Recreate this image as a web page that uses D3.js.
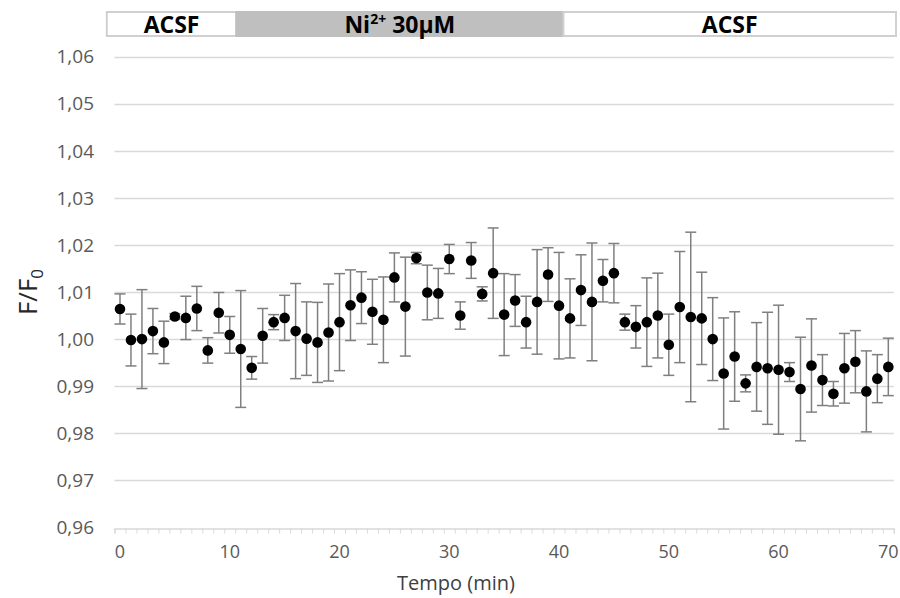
<!DOCTYPE html>
<html><head><meta charset="utf-8">
<script src="https://cdn.jsdelivr.net/npm/d3@7"></script>
<style>body{margin:0;background:#fff}svg{display:block}</style>
</head><body><div id="chart"></div>
<script>
// ---- data ----
const minutes = d3.range(0, 71);
const means = [1.0064,0.9998,1.0000,1.0017,0.9993,1.0048,1.0045,1.0065,0.9976,1.0056,
  1.0009,0.9979,0.9939,1.0007,1.0036,1.0045,1.0017,1.0001,0.9993,1.0014,
  1.0036,1.0072,1.0088,1.0058,1.0041,1.0131,1.0069,1.0172,1.0099,1.0097,
  1.0170,1.0050,1.0167,1.0096,1.0140,1.0052,1.0082,1.0036,1.0079,1.0137,
  1.0071,1.0044,1.0104,1.0079,1.0124,1.0140,1.0036,1.0026,1.0036,1.0050,
  0.9988,1.0068,1.0047,1.0044,1.0000,0.9927,0.9963,0.9906,0.9941,0.9938,
  0.9935,0.9930,0.9894,0.9944,0.9913,0.9884,0.9938,0.9952,0.9889,0.9916,0.9941];
const errors = [0.0032,0.0055,0.0105,0.0048,0.0045,0.0006,0.0046,0.0047,0.0027,0.0043,
  0.0039,0.0124,0.0024,0.0058,0.0016,0.0048,0.0101,0.0078,0.0085,0.0103,
  0.0103,0.0075,0.0055,0.0069,0.0091,0.0052,0.0105,0.0012,0.0058,0.0053,
  0.0031,0.0029,0.0038,0.0015,0.0096,0.0087,0.0055,0.0055,0.0111,0.0057,
  0.0113,0.0084,0.0075,0.0125,0.0045,0.0063,0.0017,0.0045,0.0094,0.0090,
  0.0065,0.0118,0.0180,0.0098,0.0088,0.0118,0.0095,0.0018,0.0094,0.0119,
  0.0137,0.0020,0.0110,0.0099,0.0054,0.0026,0.0074,0.0066,0.0086,0.0051,0.0061];
const xTickValues = [0,10,20,30,40,50,60,70];
const yTickValues = [0.96,0.97,0.98,0.99,1.00,1.01,1.02,1.03,1.04,1.05,1.06];
const yTickLabels = ["0,96","0,97","0,98","0,99","1,00","1,01","1,02","1,03","1,04","1,05","1,06"];
const phaseNames = ["ACSF","Ni","ACSF"];
const phaseStart = [-1.2, 10.6, 40.4];
const phaseEnd = [10.6, 40.4, 70.7];

// ---- layout ----
const W = 900, H = 598;
const svg = d3.select("#chart").append("svg").attr("width", W).attr("height", H);
const x = d3.scaleLinear().domain([-0.5, 70.5]).range([114.5, 893.8]);
const y = d3.scaleLinear().domain([0.96, 1.06]).range([527.5, 56.5]);
const font = "'Open Sans', sans-serif";

// gridlines
svg.append("g").selectAll("line").data(yTickValues.slice(1)).join("line")
  .attr("x1", x(-0.5)).attr("x2", x(70.5))
  .attr("y1", d => Math.round(y(d)) + 0.5).attr("y2", d => Math.round(y(d)) + 0.5)
  .attr("stroke", "#d9d9d9").attr("stroke-width", 1.3);

// y labels
svg.append("g").selectAll("text").data(yTickValues).join("text")
  .attr("x", 94).attr("y", d => y(d)).attr("dy", "0.36em")
  .attr("text-anchor", "end").attr("font-family", font).attr("font-size", 19)
  .attr("fill", "#595959").text((d, i) => yTickLabels[i]);

// x axis
const xAxis = d3.axisBottom(x).tickValues(d3.range(-0.5, 71, 1)).tickSize(5).tickFormat("");
const gx = svg.append("g").attr("transform", `translate(0,${Math.round(y(0.96)) + 0.5})`).call(xAxis);
gx.select(".domain").attr("stroke", "#d9d9d9").attr("stroke-width", 1.3);
gx.selectAll(".tick line").attr("stroke", "#d9d9d9").attr("stroke-width", 1);
svg.append("g").selectAll("text").data(xTickValues).join("text")
  .attr("x", d => x(d)).attr("y", 558).attr("text-anchor", "middle")
  .attr("font-family", font).attr("font-size", 18).attr("fill", "#595959").text(d => d);

// axis titles
svg.append("text").attr("x", 456).attr("y", 590).attr("text-anchor", "middle")
  .attr("font-family", font).attr("font-size", 20).attr("fill", "#404040").text("Tempo (min)");
const yt = svg.append("text").attr("transform", "translate(37,292) rotate(-90)")
  .attr("text-anchor", "middle").attr("font-family", font).attr("font-size", 26).attr("fill", "#262626");
yt.append("tspan").text("F/F");
yt.append("tspan").attr("font-size", 17).attr("dy", 6).text("0");

// phase bar
const bar = svg.append("g");
phaseNames.forEach((p, i) => {
  const x0 = x(phaseStart[i]), x1 = x(phaseEnd[i]);
  bar.append("rect").attr("x", x0).attr("y", 12).attr("width", x1 - x0).attr("height", 24)
    .attr("fill", p === "Ni" ? "#bfbfbf" : "#fff")
    .attr("stroke", p === "Ni" ? "#bfbfbf" : "#d0d0d0").attr("stroke-width", 2);
  const t = bar.append("text").attr("x", (x0 + x1) / 2).attr("y", 32.5).attr("text-anchor", "middle")
    .attr("font-family", font).attr("font-weight", "bold")
    .attr("font-size", 23).attr("fill", "#000");
  if (p === "Ni") {
    t.append("tspan").text("Ni");
    t.append("tspan").attr("font-size", 14).attr("dy", -9).text("2+");
    t.append("tspan").attr("dy", 9).text(" 30µM");
  } else t.text(p);
});

// error bars and points
const pts = minutes.map((m, i) => ({m, v: means[i], e: errors[i]}));
const eb = svg.append("g").attr("stroke", "#7f7f7f").attr("stroke-width", 1.5);
eb.selectAll("line.v").data(pts).join("line").attr("class", "v")
  .attr("x1", d => x(d.m)).attr("x2", d => x(d.m))
  .attr("y1", d => y(d.v + d.e)).attr("y2", d => y(d.v - d.e));
eb.selectAll("line.t").data(pts).join("line").attr("class", "t")
  .attr("x1", d => x(d.m) - 5.5).attr("x2", d => x(d.m) + 5.5)
  .attr("y1", d => y(d.v + d.e)).attr("y2", d => y(d.v + d.e));
eb.selectAll("line.b").data(pts).join("line").attr("class", "b")
  .attr("x1", d => x(d.m) - 5.5).attr("x2", d => x(d.m) + 5.5)
  .attr("y1", d => y(d.v - d.e)).attr("y2", d => y(d.v - d.e));
svg.append("g").selectAll("circle").data(pts).join("circle")
  .attr("cx", d => x(d.m)).attr("cy", d => y(d.v)).attr("r", 5.3).attr("fill", "#000");
</script></body></html>
